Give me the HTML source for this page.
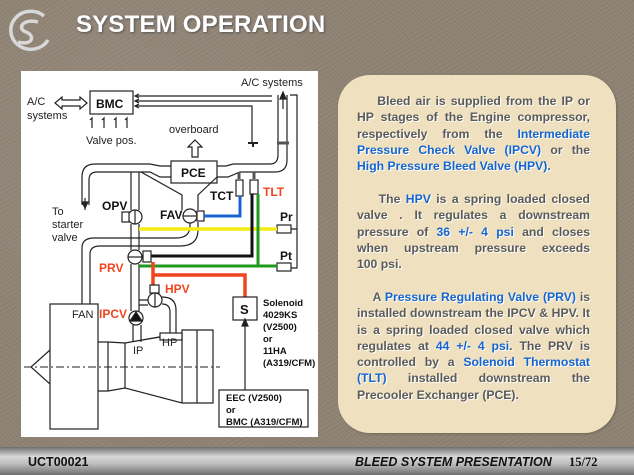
<!DOCTYPE html>
<html><head><meta charset="utf-8"><style>
html,body{margin:0;padding:0}
body{width:634px;height:475px;position:relative;overflow:hidden;background:#8f8374;font-family:"Liberation Sans",sans-serif}
.bg{position:absolute;inset:0;background:
radial-gradient(circle at 20% 30%,rgba(255,255,255,.06) 0,transparent 40%),
repeating-linear-gradient(45deg,rgba(0,0,0,.05) 0 1px,transparent 1px 3px),
repeating-linear-gradient(-30deg,rgba(255,255,255,.05) 0 1px,transparent 1px 4px),#8f8374}
.title{position:absolute;left:76px;top:11px;color:#fff;font-weight:bold;font-size:24px;letter-spacing:0.2px;text-shadow:1px 1px 2px #555}
.panel{position:absolute;left:21px;top:71px;width:297px;height:366px;background:#fff}
.txt{position:absolute;left:338px;top:75px;width:278px;height:358px;border-radius:32px;background:#efe1bf;box-shadow:1px 1px 2px #6d6a55}
.txt p{position:absolute;left:19px;width:233px;margin:0;font-weight:bold;font-size:12.2px;line-height:16.3px;color:#5a5a5a;text-align:justify;text-shadow:1px 1px 0 #fff}
.b{color:#1565d0}
.foot{position:absolute;left:0;top:447px;width:634px;height:28px;background:linear-gradient(#6f6f6f,#d9d9d9 35%,#bdbdbd 60%,#6e6e6e)}
.foot span{position:absolute;top:8px;font-weight:bold;font-size:12.5px;color:#111}
</style></head><body>
<div class="bg"></div>
<svg style="position:absolute;left:4px;top:8px" width="50" height="46" viewBox="0 0 50 46">
<g fill="none" stroke="#d8d8d8" stroke-width="3.5"><path d="M40 8 A20 19 0 1 0 44 32"/><path d="M34 14 C20 10 12 20 22 24 C32 28 28 38 14 34"/></g></svg>
<div class="title">SYSTEM OPERATION</div>
<div class="panel"></div>
<svg style="position:absolute;left:0;top:0" width="634" height="475" font-family="Liberation Sans, sans-serif">
<g fill="none" stroke="#222" stroke-width="1.2">
<rect x="90" y="91" width="43" height="23" fill="#fff"/>
<path d="M55 103 l7 -6 v3 h18 v-3 l7 6 l-7 6 v-3 h-18 v3 z"/>
<path d="M135 96 H272 M135 101 H272 M135 106 H252 V143 M139 94l-4 2 4 2 M139 99l-4 2 4 2 M139 104l-4 2 4 2"/>
<path d="M248 143 h10 M253 143 v4" stroke-width="2"/>
<path d="M92 128 v-10 l-2 2 M104 128 v-10 l-2 2 M116 128 v-10 l-2 2 M127 128 v-10 l-2 2"/>
<path d="M192 157 v-10 h-4 l7 -7 l7 7 h-4 v10 z"/>
<rect x="171" y="161" width="46" height="22" fill="#fff"/>
<path d="M171 166 H160 L150 164 H95 Q82 164 82 177 V205"/>
<path d="M171 177 H160 L150 172 H97 Q89 172 89 180 V205"/>
<path d="M85 208 l-3 -6 h6 z" fill="#222"/>
<path d="M85 198 v12"/>
<path d="M217 166 H226 L233 164 H270 Q278 164 278 155 V95"/>
<path d="M217 177 H228 L240 172 H275 Q287 172 287 160 V95"/>
<path d="M283 95 v14" /><path d="M283 92 l-3 7 h6 z" fill="#222"/>
<path d="M277 143 h12" stroke-width="3" stroke="#555"/>
<path d="M290 95 H297 V268 H291 M297 229 H291"/>
<path d="M141 172 L182 195 V210 M217 177 L198 195 V210"/>
<path d="M131 172 V210 M139 172 V210 M131 224 V250 M139 224 V250 M131 264 V311 M139 264 V311 M133 325 V342 M141 325 V342"/>
<path d="M82 304 V248 Q82 238 94 238 H176 Q190 238 190 226 V222"/>
<path d="M90 304 V254 Q90 246 100 246 H180 Q198 246 198 230 V222"/>
<circle cx="135" cy="217" r="7" fill="#fff"/><path d="M135 210 V224"/><rect x="122" y="212" width="7" height="10" fill="#fff"/>
<circle cx="190" cy="216" r="7" fill="#fff"/><path d="M183 216 H197"/><rect x="197" y="211" width="7" height="10" fill="#fff"/>
<rect x="236" y="180" width="7" height="16" fill="#fff"/><rect x="250" y="180" width="8" height="14" fill="#fff"/>
<path d="M239 172 v7 M254 172 v7" stroke-width="3" stroke="#555"/>
<rect x="277" y="225" width="14" height="8" fill="#fff"/><rect x="277" y="263" width="14" height="8" fill="#fff"/>
</g>
<path d="M204 216 H240 V196" fill="none" stroke="#1a64d0" stroke-width="3"/>
<path d="M139 229 H277" stroke="#f2ec12" stroke-width="3.5"/>
<path d="M252 194 V256 H150" fill="none" stroke="#111" stroke-width="3"/>
<path d="M258 194 V266 M139 266 H277" fill="none" stroke="#1e9a1e" stroke-width="3"/>
<path d="M153 262 V275 H245 V297 M153 275 V285" fill="none" stroke="#f0461e" stroke-width="3.5"/>
<g fill="none" stroke="#222" stroke-width="1.2">
<circle cx="135" cy="257" r="7" fill="#fff"/><path d="M128 257 H142"/><rect x="143" y="251" width="8" height="11" fill="#fff"/>
<rect x="150" y="285" width="9" height="8" fill="#fff"/>
<path d="M139 300 H148 M139 305 H148 M162 297 Q176 297 176 310 V333 M162 304 Q170 304 170 312 V333"/>
<circle cx="155" cy="300" r="7" fill="#fff"/><path d="M155 293 V307"/>
<circle cx="136" cy="318" r="7" fill="#fff"/><path d="M130 321 L136 312 L142 321 Z" fill="#111"/>
<rect x="233" y="297" width="24" height="23" fill="#fff"/>
<path d="M245 320 V390"/><path d="M245 319 l-3 7 h6 z" fill="#222"/>
<rect x="219" y="390" width="89" height="37" fill="#fff"/>
<rect x="50" y="304" width="48" height="125" fill="#fff"/>
<path d="M50 350 L31 367 L50 384"/>
<path d="M98 342 H108 V391 H98 M108 342 L125 343 V388 L108 391 M125 343 L160 337 M182 333 L125 343 M125 388 L182 403 V330 H197 V403 H182 M197 330 L213 330 V403 H197"/>
<rect x="160" y="333" width="22" height="7" fill="#fff"/>
<path d="M24 367 H220" stroke-dasharray="8 3 2 3" stroke-width="1"/>
</g>
<g font-size="11" fill="#222">
<text x="27" y="105">A/C</text><text x="27" y="119">systems</text>
<text x="86" y="144">Valve pos.</text>
<text x="169" y="133">overboard</text>
<text x="241" y="86">A/C systems</text>
<text x="52" y="215">To</text><text x="52" y="228">starter</text><text x="52" y="241">valve</text>
<text x="72" y="318">FAN</text><text x="133" y="354">IP</text><text x="162" y="346">HP</text>
</g>
<g font-size="12" font-weight="bold" fill="#111">
<text x="96" y="108">BMC</text><text x="181" y="177">PCE</text>
<text x="102" y="210">OPV</text><text x="160" y="219">FAV</text><text x="210" y="200">TCT</text>
<text x="280" y="221">Pr</text><text x="280" y="260">Pt</text>
<text x="240" y="314" font-size="13">S</text>
</g>
<g font-size="12" font-weight="bold" fill="#f0461e">
<text x="263" y="196">TLT</text><text x="99" y="272">PRV</text><text x="165" y="293">HPV</text><text x="99" y="318">IPCV</text>
</g>
<g font-size="9.5" font-weight="bold" fill="#111">
<text x="263" y="306">Solenoid</text><text x="263" y="318">4029KS</text><text x="263" y="330">(V2500)</text><text x="263" y="342">or</text><text x="263" y="354">11HA</text><text x="263" y="366">(A319/CFM)</text>
<text x="226" y="401">EEC (V2500)</text><text x="226" y="413">or</text><text x="226" y="425">BMC (A319/CFM)</text>
</g>
</svg>
<div class="txt">
<p style="top:18px">&nbsp;&nbsp;&nbsp;&nbsp;Bleed air is supplied from the IP or HP stages of the Engine compressor, respectively from the <span class="b">Intermediate Pressure Check Valve (IPCV)</span> or the <span class="b">High Pressure Bleed Valve (HPV).</span></p>
<p style="top:116px">&nbsp;&nbsp;&nbsp;&nbsp;The <span class="b">HPV</span> is a spring loaded closed valve . It regulates a downstream pressure of <span class="b">36 +/- 4 psi</span> and closes when upstream pressure exceeds 100&nbsp;psi.</p>
<p style="top:214px">&nbsp;&nbsp;&nbsp;&nbsp;A <span class="b">Pressure Regulating Valve (PRV)</span> is installed downstream the IPCV &amp; HPV. It is a spring loaded closed valve which regulates at <span class="b">44 +/- 4 psi</span>. The PRV is controlled by a <span class="b">Solenoid Thermostat (TLT)</span> installed downstream the Precooler Exchanger (PCE).</p>
</div>
<div class="foot">
<span style="left:28px">UCT00021</span>
<span style="left:355px;font-style:italic">BLEED SYSTEM PRESENTATION</span>
<span style="left:569px;font-family:'Liberation Serif',serif">15/72</span>
</div>
</body></html>
